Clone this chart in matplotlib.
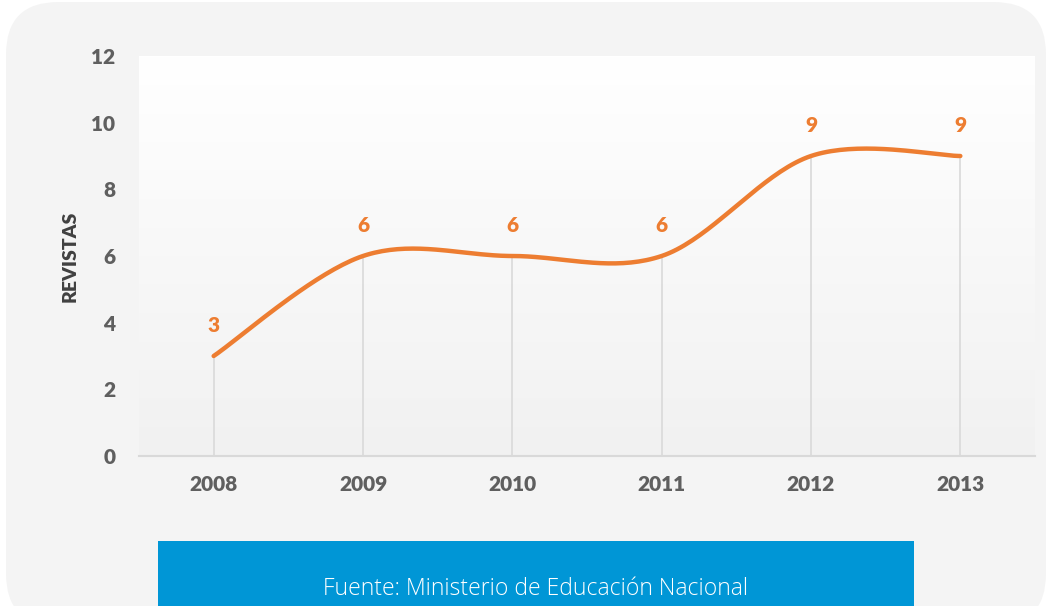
import matplotlib.pyplot as plt
import numpy as np
from matplotlib.patches import FancyBboxPatch, Rectangle

# Revistas indexadas por año
years = ['2008', '2009', '2010', '2011', '2012', '2013']
revistas = [3, 6, 6, 6, 9, 9]

y_ticks = [0, 2, 4, 6, 8, 10, 12]
source_text = 'Fuente: Ministerio de Educación Nacional'

ORANGE = '#ED7D31'
TICK_GREY = '#5F5F5F'
BLUE = '#0096D6'

plt.rcParams['font.family'] = ['Lato', 'DejaVu Sans']


def smooth_line(x, y, steps=40):
    """Bezier smoothing through every point (Catmull-Rom style, like office charts)."""
    x = np.asarray(x, float)
    y = np.asarray(y, float)
    px = np.concatenate([[x[0]], x, [x[-1]]])
    py = np.concatenate([[y[0]], y, [y[-1]]])
    xs, ys = [], []
    t = np.linspace(0, 1, steps)
    for i in range(1, len(px) - 2):
        p0 = np.array([px[i], py[i]])
        p3 = np.array([px[i + 1], py[i + 1]])
        p1 = p0 + (np.array([px[i + 1], py[i + 1]]) - np.array([px[i - 1], py[i - 1]])) / 6
        p2 = p3 - (np.array([px[i + 2], py[i + 2]]) - np.array([px[i], py[i]])) / 6
        b = ((1 - t) ** 3)[:, None] * p0 + (3 * (1 - t) ** 2 * t)[:, None] * p1 \
            + (3 * (1 - t) * t ** 2)[:, None] * p2 + (t ** 3)[:, None] * p3
        xs.append(b[:, 0])
        ys.append(b[:, 1])
    return np.concatenate(xs), np.concatenate(ys)


fig = plt.figure(figsize=(10.5, 6.06), dpi=100)
W, H = 1050, 606

# rounded grey panel behind everything
panel = FancyBboxPatch((6 / W, -20 / H), 1040 / W, 624 / H,
                       boxstyle='round,pad=0,rounding_size=0.05',
                       transform=fig.transFigure, facecolor='#F4F4F4',
                       edgecolor='none', zorder=0, mutation_aspect=W / H)
fig.patches.append(panel)

ax = fig.add_axes([139 / W, 1 - 456 / H, (1035 - 139) / W, 400 / H])
ax.set_facecolor('none')
ax.set_zorder(2)

# vertical gradient in the plot area: white on top, light grey at the bottom
grad = np.linspace(1, 0, 256)[:, None]
top = np.array([1.0, 1.0, 1.0])
bottom = np.array([0xF1, 0xF1, 0xF1]) / 255
img = top * grad[..., None] + bottom * (1 - grad[..., None])
ax.imshow(img, extent=[0, 1, 0, 1], transform=ax.transAxes, aspect='auto', zorder=0)

x = np.arange(len(years))
ax.set_xlim(-0.5, len(years) - 0.5)
ax.set_ylim(0, 12)

# drop lines from each point down to the axis
ax.vlines(x, 0, revistas, color='#D9D9D9', lw=1.2, zorder=1)

sx, sy = smooth_line(x, revistas)
ax.plot(sx, sy, color=ORANGE, lw=3.2, solid_capstyle='round', zorder=3)

for xi, v in zip(x, revistas):
    ax.annotate(str(v), (xi, v), xytext=(0, 15), textcoords='offset points',
                ha='center', va='bottom', color=ORANGE, fontsize=15, fontweight='heavy')

for s in ['top', 'right', 'left']:
    ax.spines[s].set_visible(False)
ax.spines['bottom'].set_color('#D9D9D9')
ax.spines['bottom'].set_linewidth(1.5)

ax.set_xticks(x)
ax.set_xticklabels(years)
ax.set_yticks(y_ticks)
ax.tick_params(axis='both', length=0, labelsize=15, labelcolor=TICK_GREY)
ax.tick_params(axis='x', pad=14)
ax.tick_params(axis='y', pad=17)
for lbl in ax.get_xticklabels() + ax.get_yticklabels():
    lbl.set_fontweight('heavy')

fig.text(70 / W, 1 - 256 / H, 'REVISTAS', rotation=90, ha='center', va='center',
         fontsize=14, fontweight='heavy', color='#404040')

# source banner
fig.patches.append(Rectangle((158 / W, 0), (914 - 158) / W, (606 - 541) / H,
                             transform=fig.transFigure, facecolor=BLUE,
                             edgecolor='none', zorder=1))
fig.text(536 / W, 1 - 589 / H, source_text, ha='center', va='center',
         color='white', fontsize=16.5, family=['Open Sans', 'DejaVu Sans'],
         fontweight='light', zorder=2)

fig.savefig('out.png', dpi=100, facecolor='white')
